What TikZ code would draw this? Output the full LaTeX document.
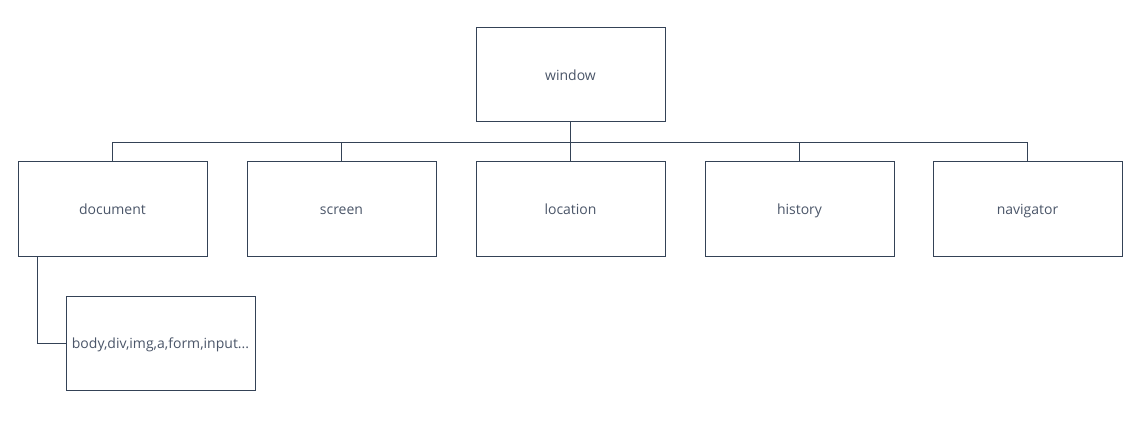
\documentclass[tikz,border=0pt]{standalone}
\usepackage{fontspec}
\setmainfont{Open Sans}
\definecolor{boxline}{HTML}{344256}
\definecolor{boxtext}{HTML}{4A5568}
\begin{document}
\begin{tikzpicture}[x=1pt, y=-1pt,
		box/.style = {draw=boxline, line width=1pt, minimum width=189pt, minimum height=94pt, inner sep=0pt, text height=12pt, text depth=1pt, text=boxtext, font=\fontsize{14}{16}\selectfont},
		link/.style = {draw=boxline, line width=1pt}]
		\useasboundingbox (0, 0) rectangle (1142, 438);
		\node[box] (window) at (570.5, 75) {window};
		%%%%%%%%%
		\node[box] (document) at (112.5, 209) {document};
		\node[box] (screen) at (341.5, 209) {screen};
		\node[box] (location) at (570.5, 209) {location};
		\node[box] (history) at (799.5, 209) {history};
		\node[box] (navigator) at (1027.5, 209) {navigator};
		%%%%%%%%%
		\node[box] (elements) at (160.5, 343) {body,div,img,a,form,input...};
		%%%%%%%%%
		\foreach \child in {document, screen, location, history, navigator}
			\draw[link] (window.south) -- ++(0, 20) -| (\child.north);
		\draw[link] ([xshift=-75.5pt]document.south) |- (elements.west);
	\end{tikzpicture}
\end{document}
